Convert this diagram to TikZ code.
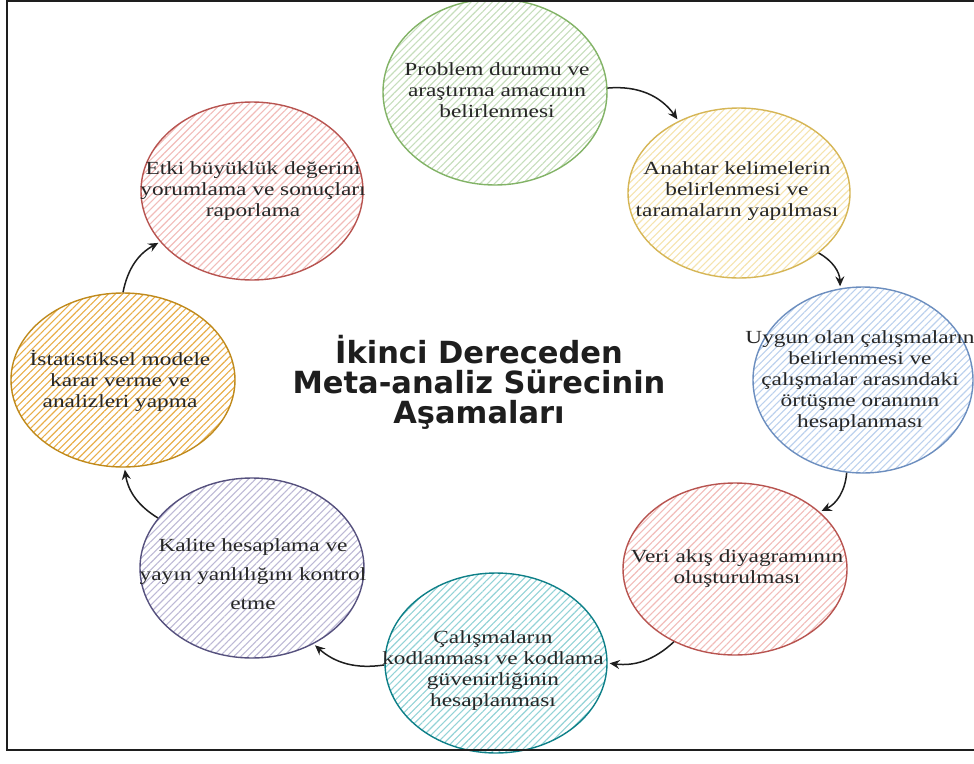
\documentclass[tikz,border=0pt]{standalone}
\usepackage{fontspec}
\setmainfont{Liberation Serif}[FakeStretch=1.26]
\newfontfamily\titlefont{DejaVu Sans}
\usetikzlibrary{shapes.geometric,patterns.meta,arrows.meta}
\definecolor{gstroke}{HTML}{82B366}\definecolor{ghatch}{HTML}{C6DEBC}
\definecolor{ystroke}{HTML}{D6B656}\definecolor{yhatch}{HTML}{F6E4AE}
\definecolor{bstroke}{HTML}{6C8EBF}\definecolor{bhatch}{HTML}{BCD1EE}
\definecolor{rstroke}{HTML}{B85450}\definecolor{rhatch}{HTML}{F2BCB9}
\definecolor{tstroke}{HTML}{0E8088}\definecolor{thatch}{HTML}{93D3D7}
\definecolor{pstroke}{HTML}{56517E}\definecolor{phatch}{HTML}{BDB9D6}
\definecolor{ostroke}{HTML}{C08A1C}\definecolor{ohatch}{HTML}{E9AE48}
\definecolor{txt}{HTML}{262626}
\definecolor{arr}{HTML}{1E1E1E}
\begin{document}
\begin{tikzpicture}[x=1pt,y=-1pt,
  stage/.style n args={4}{ellipse, draw=#1, line width=1.4pt,
    minimum width=#3, minimum height=#4, inner sep=0pt,
    pattern={Lines[angle=45,distance=5pt,line width=1.1pt]}, pattern color=#2},
  lbl/.style={align=center, text=txt, font=\fontsize{18.5}{21}\selectfont, inner sep=0pt},
  flow/.style={draw=arr, line width=1.5pt, -{Stealth[length=10pt,width=9pt,inset=3.5pt]}, shorten >=2pt}
]
\useasboundingbox (0,0) rectangle (974,763);
\fill[white] (0,0) rectangle (974,763);

% stages
\node[stage={gstroke}{ghatch}{224}{186}] (s1) at (495,92) {};
\node[stage={ystroke}{yhatch}{222}{170}] (s2) at (739,193) {};
\node[stage={bstroke}{bhatch}{220}{186}] (s3) at (863,380) {};
\node[stage={rstroke}{rhatch}{224}{172}] (s4) at (735,569) {};
\node[stage={tstroke}{thatch}{222}{180}] (s5) at (496,663) {};
\node[stage={pstroke}{phatch}{224}{180}] (s6) at (252,568) {};
\node[stage={ostroke}{ohatch}{224}{174}] (s7) at (123,380) {};
\node[stage={rstroke}{rhatch}{222}{178}] (s8) at (252,191) {};

% frame
\draw[line width=2pt, draw=arr] (974,1) -- (7,1) -- (7,750) -- (974,750);

% labels
\node[lbl] (t1) at (497,90) {Problem durumu ve\\araştırma amacının\\belirlenmesi};
\node[lbl] (t2) at (737,191) {Anahtar kelimelerin\\belirlenmesi ve\\taramaların yapılması};
\node[lbl] (t3) at (860,381) {Uygun olan çalışmaların\\belirlenmesi ve\\çalışmalar arasındaki\\örtüşme oranının\\hesaplanması};
\node[lbl] (t4) at (737,569) {Veri akış diyagramının\\oluşturulması};
\node[lbl] (t5) at (493,671) {Çalışmaların\\kodlanması ve kodlama\\güvenirliğinin\\hesaplanması};
\node[lbl, font=\fontsize{18.5}{29}\selectfont] (t6) at (253,574) {Kalite hesaplama ve\\yayın yanlılığını kontrol\\etme};
\node[lbl] (t7) at (120,381) {İstatistiksel modele\\karar verme ve\\analizleri yapma};
\node[lbl] (t8) at (253,191) {Etki büyüklük değerini\\yorumlama ve sonuçları\\raporlama};

\node[align=center, text=arr, font=\titlefont\bfseries\fontsize{30.5}{30}\selectfont, inner sep=0pt] (title) at (479,382)
  {İkinci Dereceden\\Meta-analiz Sürecinin\\Aşamaları};

% connectors
\draw[flow] (s1.2) to[bend left=30] (s2.130);
\draw[flow] (s2.-37) to[bend left=30] (s3.104);
\draw[flow] (s3.-100) to[bend left=30] (s4.34);
\draw[flow] (s4.-130) to[bend left=25] (s5.0);
\draw[flow] (s5.181) to[bend left=25] (s6.-51);
\draw[flow] (s6.152) to[bend left=25] (s7.-89);
\draw[flow] (s7.90) to[bend left=25] (s8.-151);
\end{tikzpicture}
\end{document}
